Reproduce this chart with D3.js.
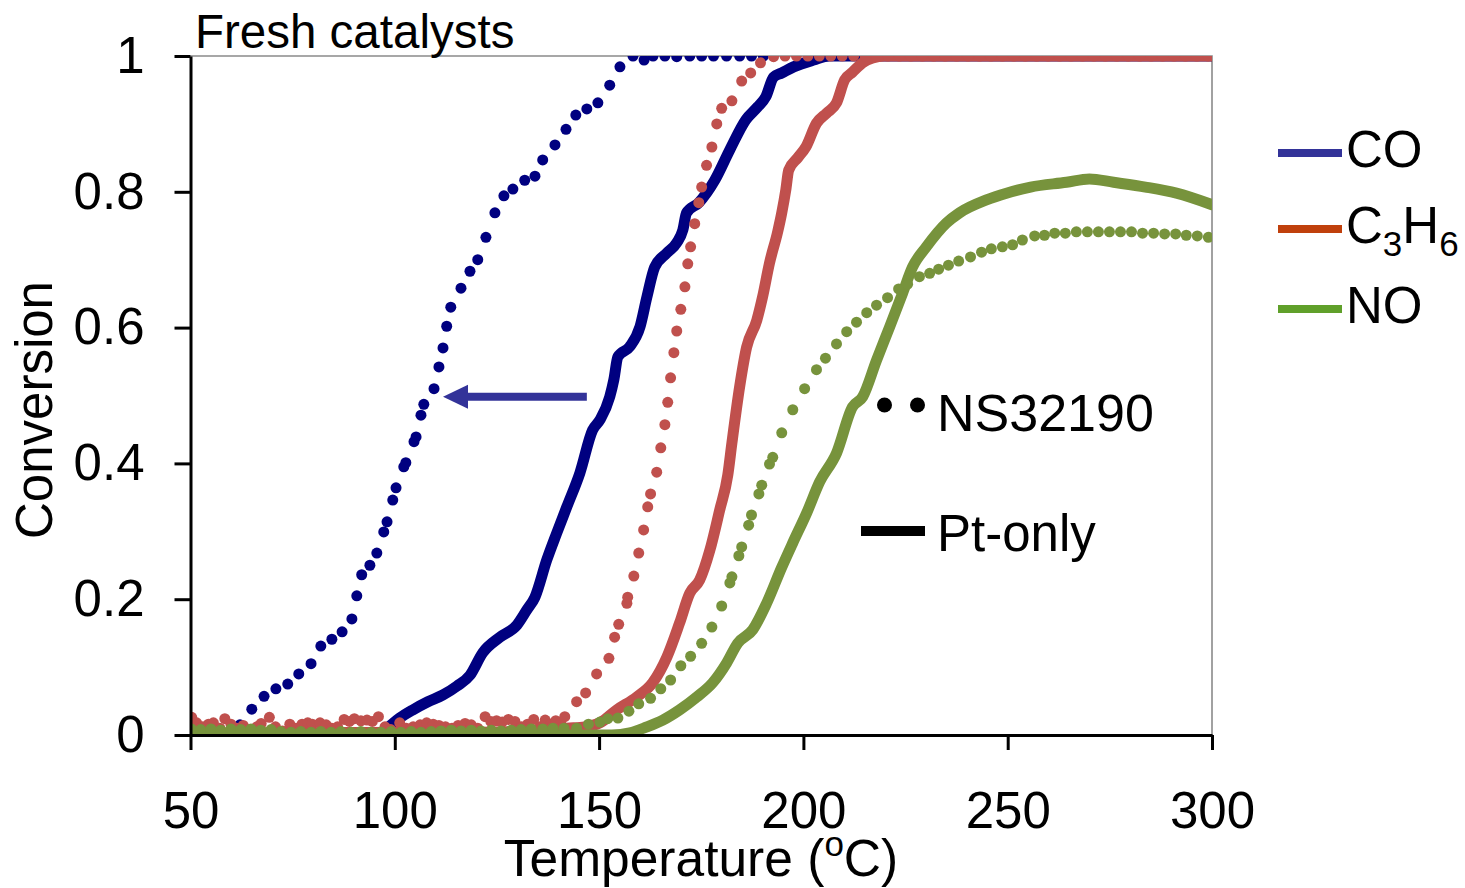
<!DOCTYPE html>
<html>
<head>
<meta charset="utf-8">
<script src="https://cdn.jsdelivr.net/npm/d3@7"></script>
<style>
  html, body { margin: 0; padding: 0; background: #fff; }
  svg { display: block; font-family: "Liberation Sans", Arial, sans-serif; }
</style>
</head>
<body>
<svg id="chart" width="1465" height="888"></svg>
<script>
// Light-off curves, fresh catalysts: conversion vs. inlet temperature (°C)
const tempTicks = [50, 100, 150, 200, 250, 300];
const convTicks = [0, 0.2, 0.4, 0.6, 0.8, 1];

// CO, NS32190 (dotted)
const coNS32190 = [
  [50.6,.003],[53.5,.001],[57.2,.003],[62.1,.015],[65.0,.038],[68.0,.057],[70.9,.068],[73.8,.075],
  [76.5,.090],[79.5,.105],[81.9,.131],[84.6,.141],[87.1,.152],[89.5,.171],[90.7,.205],[91.9,.236],
  [93.9,.250],[95.6,.268],[97.3,.299],[98.1,.314],[99.5,.346],[100.3,.364],[102.2,.395],[102.7,.401],
  [104.7,.432],[105.2,.439],[106.4,.471],[107.1,.487],[109.6,.510],[110.8,.542],[111.8,.570],[112.7,.602],
  [113.7,.630],[116.2,.658],[118.4,.683],[120.3,.700],[122.3,.733],[124.5,.769],[126.7,.794],[128.9,.804],
  [131.8,.817],[134.3,.823],[136.2,.847],[139.2,.869],[141.9,.892],[144.3,.913],[147.0,.922],[149.7,.931],
  [152.6,.957],[155.1,.984],[158.3,1.0],[161.0,.994],[163.2,1.0],[166.1,1.0],[169.0,.999],[172.2,1.0],
  [175.1,1.0],[178.0,1.0],[181.2,1.0],[184.4,1.0],[187.3,1.0],[190.2,1.0]
];
// CO, Pt-only (solid)
const coPtOnly = [
  [50,0],[95.9,0],[98.1,.010],[101.2,.025],[104.4,.037],[108.1,.049],[111.8,.059],[115.2,.072],
  [118.4,.088],[121.5,.121],[125.7,.144],[129.9,.162],[132.3,.184],[134.3,.203],[137.2,.258],[139.6,.297],
  [142.1,.336],[145.3,.386],[148.4,.449],[150.2,.464],[152.6,.498],[153.6,.523],[154.6,.557],[157.5,.572],
  [160.0,.601],[161.7,.645],[163.6,.689],[166.6,.710],[169.0,.725],[170.5,.744],[171.4,.769],[174.4,.784],
  [178.3,.817],[182.0,.862],[185.9,.906],[188.8,.925],[190.8,.940],[192.7,.969],[194.7,.975],[197.6,.984],
  [202.5,.994],[206.4,1.0],[300,1.0]
];
// C3H6, NS32190 (dotted)
const c3h6NS32190 = [
  [50.3,.026],[51.5,.018],[53.0,.012],[54.4,.016],[55.6,.018],[57.2,.010],[58.4,.024],[59.9,.016],
  [61.3,.010],[62.9,.014],[64.5,.008],[66.2,.012],[67.3,.017],[69.3,.026],[70.8,.012],[72.5,.006],
  [74.3,.016],[75.8,.010],[77.3,.016],[78.7,.018],[79.8,.016],[81.7,.018],[83.2,.015],[84.6,.010],
  [86.0,.012],[87.6,.023],[88.9,.020],[90.1,.024],[91.7,.021],[93.2,.022],[94.5,.020],[96.0,.027],
  [97.6,.012],[99.0,.008],[101.2,.018],[102.8,.010],[104.5,.012],[106.2,.015],[107.8,.018],[109.4,.016],
  [110.8,.014],[112.4,.012],[114.0,.010],[115.5,.014],[117.2,.017],[118.7,.015],[120.3,.010],[122.1,.027],
  [123.5,.020],[124.9,.021],[126.3,.019],[127.8,.023],[129.4,.020],[131.0,.012],[132.5,.016],[134.0,.023],
  [135.5,.012],[136.8,.022],[138.2,.016],[139.4,.021],[140.6,.018],
  [141.6,.027],[144.5,.049],[146.7,.062],[149.4,.090],[152.4,.113],[153.8,.144],[154.8,.163],[156.8,.194],
  [157.0,.203],[158.5,.234],[159.7,.268],[160.9,.302],[161.9,.336],[162.6,.355],[164.1,.387],[165.1,.423],
  [166.1,.457],[166.8,.490],[167.5,.526],[168.3,.563],[169.0,.595],[170.0,.627],[171.0,.660],[171.7,.694],
  [172.4,.719],[173.4,.753],[174.4,.784],[175.1,.807],[176.3,.839],[177.6,.866],[178.8,.900],[180.0,.923],
  [182.5,.934],[184.9,.963],[187.1,.975],[189.5,.990],[192.7,.999],
  [195.5,1.0],[198.3,1.0],[201.1,1.0],[203.9,1.0],[206.7,1.0],[209.5,1.0],[212.3,1.0],[215.1,1.0],
  [217.9,1.0],[220.7,1.0],[223.5,1.0],[226.3,1.0],[229.1,1.0],[231.9,1.0],[234.7,1.0],[237.5,1.0],
  [240.3,1.0],[243.1,1.0],[245.9,1.0],[248.7,1.0],[251.5,1.0],[254.3,1.0],[257.1,1.0],[259.9,1.0],
  [262.7,1.0],[265.5,1.0],[268.3,1.0],[271.1,1.0],[273.9,1.0],[276.7,1.0],[279.5,1.0],[282.3,1.0],
  [285.1,1.0],[287.9,1.0],[290.7,1.0],[293.5,1.0],[296.3,1.0],[299.1,1.0]
];
// C3H6, Pt-only (solid)
const c3h6PtOnly = [
  [50,.003],[113.5,.004],[135.5,.006],[142.1,.010],[146.5,.012],[150.2,.018],[154.3,.037],[159.2,.056],
  [163.1,.077],[166.6,.115],[169.7,.165],[172.2,.209],[174.6,.228],[177.1,.272],[179.5,.331],[181.5,.383],
  [182.5,.430],[184.4,.513],[186.1,.571],[188.6,.611],[190.0,.645],[191.7,.695],[193.7,.741],[194.7,.769],
  [195.7,.803],[196.4,.832],[198.6,.850],[200.6,.866],[203.2,.901],[205.7,.916],[208.1,.931],[210.1,.965],
  [212.0,.976],[214.5,.990],[216.9,.997],[219.9,1.0],[300,1.0]
];
// NO, NS32190 (dotted)
const noNS32190 = [
  [50.2,.009],[52.5,.008],[55.0,.009],[57.4,.007],[59.9,.009],[62.3,.008],[64.8,.009],[67.2,.007],
  [69.7,.008],[72.1,.005],[74.6,.004],[77.0,.005],[79.5,.004],[81.9,.005],[84.4,.004],[86.8,.005],
  [89.3,.004],[91.7,.005],[94.2,.004],[96.6,.004],[99.1,.005],[101.5,.004],[104.0,.005],[106.4,.004],
  [108.9,.005],[111.3,.006],[113.8,.007],[116.2,.006],[118.7,.007],[121.1,.006],[123.6,.007],[126.0,.006],
  [128.5,.007],[130.9,.008],[133.4,.009],[136.2,.009],[138.7,.010],[141.4,.010],[144.5,.010],[147.4,.016],
  [150.2,.019],[152.1,.024],[154.6,.025],[157.3,.035],[159.7,.046],[162.6,.054],[165.1,.068],[167.5,.081],
  [170.0,.102],[172.4,.116],[175.1,.135],[177.6,.159],[180.0,.190],[182.0,.224],[182.5,.233],[184.2,.264],
  [184.9,.277],[186.6,.309],[187.3,.324],[189.1,.355],[189.8,.368],[191.7,.399],[192.5,.409],[194.7,.445],
  [197.4,.479],[200.3,.510],[203.2,.538],[205.4,.555],[208.1,.576],[210.6,.594],[213.0,.608],[215.5,.622],
  [217.9,.633],[220.6,.644],[223.3,.657],[225.5,.664],[228.4,.675],[230.9,.680],[233.1,.686],[235.5,.692],
  [238.0,.698],[240.9,.704],[243.6,.711],[246.0,.716],[248.7,.719],[251.2,.722],[253.6,.729],[256.6,.735],
  [259.0,.736],[261.5,.739],[264.1,.739],[266.8,.741],[269.5,.741],[272.2,.741],[274.9,.741],[277.6,.741],
  [280.3,.741],[283.0,.739],[285.7,.739],[288.4,.738],[291.1,.738],[293.7,.736],[296.4,.735],[299.1,.733]
];
// NO, Pt-only (solid)
const noPtOnly = [
  [50,0],[153.1,0],[157.5,.003],[161.7,.012],[165.6,.022],[169.7,.037],[173.9,.056],[177.8,.077],
  [181.2,.106],[183.9,.135],[187.6,.155],[191.0,.194],[194.7,.247],[197.4,.283],[200.8,.327],[204.0,.373],
  [208.1,.415],[212.0,.483],[214.5,.498],[217.9,.552],[221.1,.601],[224.3,.651],[226.7,.689],[230.1,.719],
  [235.0,.754],[238.2,.769],[244.8,.788],[249.7,.798],[255.6,.807],[264.4,.814],[270.0,.819],[275.9,.814],
  [283.7,.807],[291.3,.798],[300,.781]
];

// Shift of the CO light-off at 50 % conversion
const coShift = { from: 147.0, to: 111.8, level: 0.498 };

const seriesColors = { CO: "#000080", C3H6: "#C0504D", NO: "#77933C" };
const legendColors = { CO: "#333399", C3H6: "#C0400C", NO: "#60A02A" };

const svg = d3.select("#chart");
const x = d3.scaleLinear().domain([50, 300]).range([190.5, 1212]);
const y = d3.scaleLinear().domain([0, 1]).range([735, 56]);
const FONT = 51;

svg.append("defs").append("clipPath").attr("id", "plot-clip")
  .append("rect").attr("x", x(50)).attr("y", y(1))
  .attr("width", x(300) - x(50)).attr("height", y(0) - y(1));

// frame: grey top and right edges
svg.append("path")
  .attr("d", `M${x(50)},${y(1)}H${x(300)}V${y(0)}`)
  .attr("fill", "none").attr("stroke", "#8a8a8a").attr("stroke-width", 1.6);

const plot = svg.append("g").attr("clip-path", "url(#plot-clip)");

const line = d3.line().x(d => x(d[0])).y(d => y(d[1])).curve(d3.curveMonotoneX);

function drawSolid(data, color) {
  plot.append("path").datum(data)
    .attr("d", line).attr("fill", "none")
    .attr("stroke", color).attr("stroke-width", 11)
    .attr("stroke-linejoin", "round").attr("stroke-linecap", "round");
}
function drawDots(data, color) {
  plot.append("g").selectAll("circle").data(data).join("circle")
    .attr("cx", d => x(d[0])).attr("cy", d => y(d[1]))
    .attr("r", 5.5).attr("fill", color);
}

drawSolid(coPtOnly, seriesColors.CO);
drawDots(coNS32190, seriesColors.CO);
drawSolid(c3h6PtOnly, seriesColors.C3H6);
drawDots(c3h6NS32190, seriesColors.C3H6);
drawSolid(noPtOnly, seriesColors.NO);
drawDots(noNS32190, seriesColors.NO);

// axes
const yAxis = svg.append("g").attr("transform", `translate(${x(50)},0)`)
  .call(d3.axisLeft(y).tickValues(convTicks).tickFormat(d3.format("~g"))
    .tickSize(16).tickSizeOuter(0).tickPadding(30));
const xAxis = svg.append("g").attr("transform", `translate(0,${y(0)})`)
  .call(d3.axisBottom(x).tickValues(tempTicks).tickFormat(d3.format("d"))
    .tickSize(15).tickSizeOuter(0).tickPadding(42));
[yAxis, xAxis].forEach(g => {
  g.select(".domain").attr("stroke", "#000").attr("stroke-width", 3);
  g.selectAll(".tick line").attr("stroke", "#000").attr("stroke-width", 3);
  g.selectAll(".tick text").attr("fill", "#000")
    .attr("font-size", FONT).attr("font-family", "Liberation Sans, Arial, sans-serif");
});

// axis titles
svg.append("text")
  .attr("transform", "translate(52,410) rotate(-90)")
  .attr("text-anchor", "middle").attr("font-size", FONT).text("Conversion");

const xt = svg.append("text").attr("x", 701).attr("y", 876)
  .attr("text-anchor", "middle").attr("font-size", 51.5);
xt.append("tspan").text("Temperature (");
xt.append("tspan").attr("dy", -20).attr("font-size", 35).text("o");
xt.append("tspan").attr("dy", 20).text("C)");

svg.append("text").attr("x", 195).attr("y", 48)
  .attr("font-size", 47.5).text("Fresh catalysts");

// arrow: CO light-off shift
svg.append("line")
  .attr("x1", x(coShift.from)).attr("x2", x(coShift.to) + 22)
  .attr("y1", y(coShift.level)).attr("y2", y(coShift.level))
  .attr("stroke", "#333399").attr("stroke-width", 8);
svg.append("path")
  .attr("d", `M${x(coShift.to)},${y(coShift.level)}l25,-12v24z`)
  .attr("fill", "#333399");

// gas legend
const gases = [
  { key: "CO", y: 153, label: [["CO", 0]] },
  { key: "C3H6", y: 229, label: [["C", 0], ["3", 1], ["H", 0], ["6", 1]] },
  { key: "NO", y: 309, label: [["NO", 0]] }
];
gases.forEach(g => {
  svg.append("line").attr("x1", 1278).attr("x2", 1342).attr("y1", g.y).attr("y2", g.y)
    .attr("stroke", legendColors[g.key]).attr("stroke-width", 8);
  const t = svg.append("text").attr("x", 1346).attr("y", g.y + 14).attr("font-size", FONT);
  let sub = 0;
  g.label.forEach(([s, isSub]) => {
    const dy = isSub ? 13 - sub : (sub ? -13 : 0);
    t.append("tspan").attr("dy", dy).attr("font-size", isSub ? 35 : FONT).text(s);
    sub = isSub ? 13 : 0;
  });
});

// marker-style legend
svg.selectAll("circle.key").data([884.5, 917.5]).join("circle")
  .attr("class", "key").attr("cx", d => d).attr("cy", 405).attr("r", 7.5).attr("fill", "#000");
svg.append("text").attr("x", 937).attr("y", 431).attr("font-size", 52).text("NS32190");
svg.append("line").attr("x1", 861).attr("x2", 925).attr("y1", 531).attr("y2", 531)
  .attr("stroke", "#000").attr("stroke-width", 10);
svg.append("text").attr("x", 937).attr("y", 551).attr("font-size", FONT).text("Pt-only");
</script>
</body>
</html>
